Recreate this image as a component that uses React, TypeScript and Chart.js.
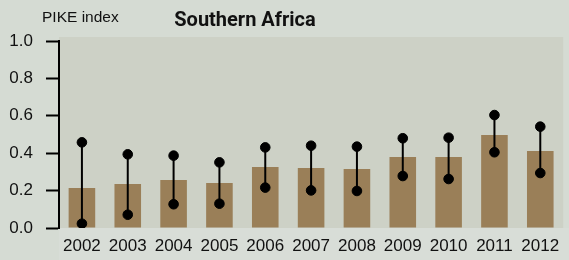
import React, { useEffect, useRef } from "react";
import { Chart, registerables } from "chart.js";

Chart.register(...registerables);

const years = ["2002", "2003", "2004", "2005", "2006", "2007", "2008", "2009", "2010", "2011", "2012"];
const pike = [0.214, 0.235, 0.257, 0.241, 0.326, 0.321, 0.316, 0.38, 0.38, 0.497, 0.412];
const upper = [0.458, 0.394, 0.387, 0.351, 0.431, 0.44, 0.435, 0.48, 0.483, 0.604, 0.542];
const lower = [0.023, 0.071, 0.127, 0.13, 0.216, 0.201, 0.198, 0.278, 0.262, 0.405, 0.294];
const yTicks = [0, 0.2, 0.4, 0.6, 0.8, 1.0];
const titleText = "Southern Africa";
const yAxisTitle = "PIKE index";

const decorPlugin = {
  id: "decor",
  beforeDraw(chart: any) {
    const { ctx, chartArea, width, height } = chart;
    ctx.save();
    ctx.fillStyle = "#cdd1c6";
    ctx.fillRect(chartArea.left, chartArea.top - 4, chartArea.right - chartArea.left, chartArea.bottom - chartArea.top + 4);
    ctx.fillStyle = "#d8ddd7";
    ctx.fillRect(chartArea.left, chartArea.bottom, width - chartArea.left, height - chartArea.bottom);
    ctx.restore();
  },
  afterDatasetsDraw(chart: any) {
    const { ctx, scales } = chart;
    ctx.save();
    ctx.strokeStyle = "#000";
    ctx.lineWidth = 2;
    years.forEach((_, i) => {
      const x = scales.x.getPixelForValue(i);
      ctx.beginPath();
      ctx.moveTo(x, scales.y.getPixelForValue(lower[i]));
      ctx.lineTo(x, scales.y.getPixelForValue(upper[i]));
      ctx.stroke();
    });
    ctx.restore();
  },
  afterDraw(chart: any) {
    const { ctx } = chart;
    ctx.save();
    ctx.fillStyle = "#111";
    ctx.textBaseline = "middle";
    ctx.textAlign = "left";
    ctx.font = "15.5px 'Liberation Sans', Arial, sans-serif";
    ctx.fillText(yAxisTitle, 42, 18);
    ctx.textAlign = "center";
    ctx.font = "bold 20px Roboto, 'Liberation Sans', sans-serif";
    ctx.fillText(titleText, 245, 21);
    ctx.restore();
  },
};

export default function App() {
  const ref = useRef<HTMLCanvasElement>(null);
  useEffect(() => {
    if (!ref.current) return;
    const chart = new Chart(ref.current, {
      type: "bar",
      data: {
        labels: years,
        datasets: [
          {
            type: "bar",
            data: pike,
            backgroundColor: "#9a7f58",
            barPercentage: 0.58,
            categoryPercentage: 1,
            order: 3,
          },
          {
            type: "line",
            data: upper,
            showLine: false,
            pointRadius: 4.8,
            pointBackgroundColor: "#000",
            pointBorderColor: "#000",
            order: 1,
          },
          {
            type: "line",
            data: lower,
            showLine: false,
            pointRadius: 4.8,
            pointBackgroundColor: "#000",
            pointBorderColor: "#000",
            order: 1,
          },
        ] as any,
      },
      options: {
        animation: false,
        responsive: false,
        maintainAspectRatio: false,
        layout: { padding: { top: 41, right: 0, left: 0, bottom: 0 } },
        plugins: { legend: { display: false }, tooltip: { enabled: false }, title: { display: false } },
        scales: {
          x: {
            grid: { display: false },
            border: { display: false },
            ticks: {
              color: "#111",
              font: { family: "'Liberation Sans', Arial, sans-serif", size: 17 },
              padding: 0,
              maxRotation: 0,
              autoSkip: false,
            },
            afterFit(scale: any) {
              scale.height = 32;
            },
          },
          y: {
            min: 0,
            max: 1,
            afterBuildTicks(scale: any) {
              scale.ticks = yTicks.map((v) => ({ value: v }));
            },
            grid: {
              drawOnChartArea: false,
              drawTicks: true,
              tickLength: 13,
              tickColor: "#000",
              tickWidth: 2,
            },
            border: { display: true, color: "#000", width: 2 },
            ticks: {
              color: "#111",
              padding: 13,
              font: { family: "'Liberation Sans', Arial, sans-serif", size: 17 },
              callback: (v: any) => Number(v).toFixed(1),
            },
            afterFit(scale: any) {
              scale.width = 59;
            },
          },
        },
      },
      plugins: [decorPlugin],
    });
    return () => chart.destroy();
  }, []);
  return (
    <div style={{ position: "fixed", left: 0, top: 0, width: 569, height: 260, background: "#d5dbd3" }}>
      <canvas ref={ref} width={569} height={260} style={{ display: "block", width: 569, height: 260 }} />
    </div>
  );
}
